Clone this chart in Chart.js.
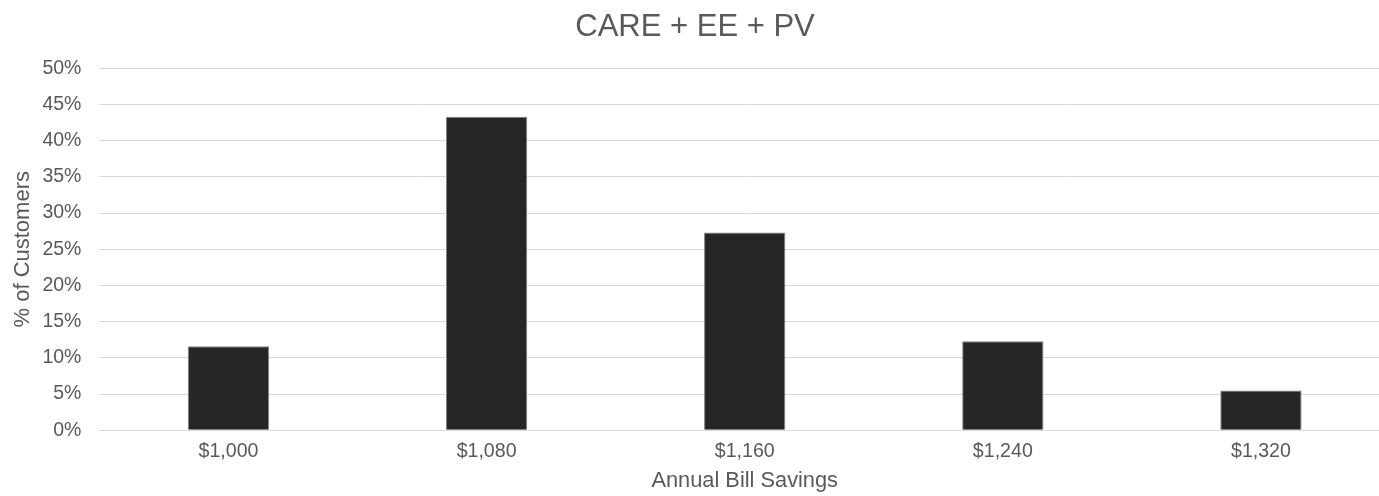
<!DOCTYPE html>
<html>
<head>
<meta charset="utf-8">
<script src="https://cdn.jsdelivr.net/npm/chart.js@4/dist/chart.umd.min.js"></script>
<style>
  html, body { margin: 0; padding: 0; background: #ffffff; overflow: hidden; }
  #wrap { width: 1396px; height: 496px; }
</style>
</head>
<body>
<div id="wrap"><canvas id="chart" width="1396" height="496"></canvas></div>
<script>
// Share of customers by annual bill savings bucket
const categories = ['$1,000', '$1,080', '$1,160', '$1,240', '$1,320'];
const customerShare = [11.6, 43.3, 27.3, 12.3, 5.5];
const chartTitle = 'CARE + EE + PV';
const xAxisTitle = 'Annual Bill Savings';
const yAxisTitle = '% of Customers';

const FONT = "'Liberation Sans', Arial, sans-serif";
const TEXT = '#595959';
const GRID = '#d9d9d9';

new Chart(document.getElementById('chart'), {
  type: 'bar',
  data: {
    labels: categories,
    datasets: [{
      data: customerShare,
      backgroundColor: '#262626',
      borderColor: '#7f7f7f',
      borderWidth: 1,
      barPercentage: 1,
      categoryPercentage: 0.315
    }]
  },
  options: {
    responsive: false,
    animation: false,
    devicePixelRatio: 1,
    layout: { padding: { left: 0, right: 6, top: 0, bottom: 0 } },
    plugins: {
      legend: { display: false },
      tooltip: { enabled: false },
      title: {
        display: true,
        text: chartTitle,
        color: TEXT,
        font: { family: FONT, size: 31, weight: 'normal', lineHeight: 1.2 },
        padding: { top: 9, bottom: 22 }
      }
    },
    scales: {
      x: {
        grid: { display: false, drawTicks: false },
        border: { display: false },
        ticks: {
          color: TEXT,
          padding: 10,
          font: { family: FONT, size: 19.6, lineHeight: 1.2 }
        },
        title: {
          display: true,
          text: xAxisTitle,
          color: TEXT,
          font: { family: FONT, size: 21.8, lineHeight: 1.2 },
          padding: { top: -6, bottom: 2 }
        }
      },
      y: {
        min: 0,
        max: 50,
        grid: { color: GRID, lineWidth: 1, drawTicks: false },
        border: { display: false },
        ticks: {
          stepSize: 5,
          color: TEXT,
          padding: 18,
          font: { family: FONT, size: 19.5, lineHeight: 1.2 },
          callback: (v) => v + '%'
        },
        title: {
          display: true,
          text: yAxisTitle,
          color: TEXT,
          font: { family: FONT, size: 22, lineHeight: 1.2 },
          padding: { top: 10, bottom: -12 }
        }
      }
    }
  }
});
</script>
</body>
</html>
